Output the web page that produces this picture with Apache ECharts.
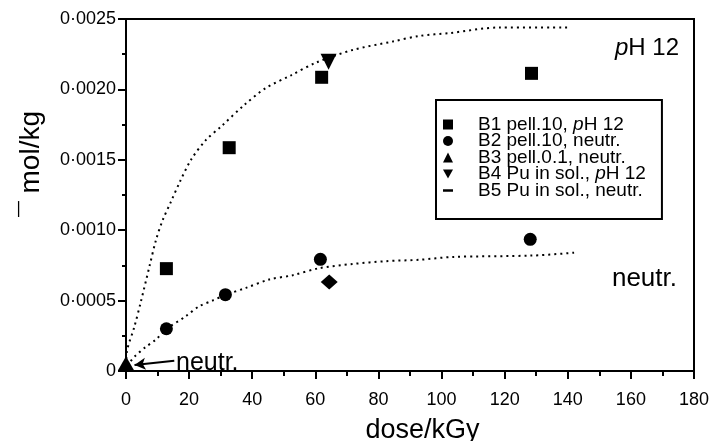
<!DOCTYPE html>
<html>
<head>
<meta charset="utf-8">
<script src="https://cdn.jsdelivr.net/npm/echarts@6/dist/echarts.min.js"></script>
<style>
  html, body { margin: 0; padding: 0; background: #fff; }
  #chart { width: 713px; height: 441px; }
</style>
</head>
<body>
<div id="chart"></div>
<script>
const FONT = '"Liberation Sans", Arial, sans-serif';

// measured points [dose kGy, mol/kg]
const b1Pellet10pH12 = [[12.8, 0.000727], [32.7, 0.001586], [62.0, 0.002086], [128.5, 0.002114]];
const b2Pellet10Neutr = [[12.8, 0.0003], [31.5, 0.000542], [61.6, 0.000793], [128.1, 0.000935]];
const b3Pellet01Neutr = [[0, 0.000055]];
const b4SolpH12 = [[64.2, 0.002197]];
const b5SolNeutr = [[64.4, 0.000632]];

// dotted guide curves
const curvePH12 = [
  [0, 0], [0.3, 0.00014], [2.6, 0.00031], [4.8, 0.0005], [7.4, 0.00074], [9.5, 0.00093],
  [11.6, 0.00107], [14.2, 0.0012], [17, 0.00134], [20.6, 0.0015], [25.3, 0.00164],
  [30.3, 0.00174], [37.5, 0.00189], [44.3, 0.00201], [52.3, 0.0021], [60.2, 0.00219],
  [71.8, 0.00228], [84.5, 0.00234], [93, 0.00238], [102.5, 0.0024], [118.3, 0.00244], [141, 0.00244]
];
const curveNeutr = [
  [1.5, 0.00007], [2.6, 0.0001], [6.2, 0.00017], [9.3, 0.00022], [13, 0.0003], [19, 0.00039],
  [23.2, 0.00046], [27.4, 0.0005], [31.5, 0.00054], [38, 0.00059], [45.4, 0.00065],
  [52.8, 0.00068], [61.2, 0.00073], [71.8, 0.00076], [82.4, 0.00078], [93, 0.00079],
  [103.5, 0.00081], [128.8, 0.00082], [142, 0.00084]
];

const legendNames = [
  'B1 pell.10, pH 12',
  'B2 pell.10, neutr.',
  'B3 pell.0.1, neutr.',
  'B4 Pu in sol., pH 12',
  'B5 Pu in sol., neutr.'
];
const legendIcons = ['rect', 'circle', 'triangle', 'path://M0,0L10,0L5,9Z', 'path://M0,0H10V2.5H0Z'];

const xTicks = { min: 0, max: 180, interval: 20 };
const yTicks = { min: 0, max: 0.0025, interval: 0.0005 };

const chart = echarts.init(document.getElementById('chart'));

const dotted = { color: '#000', width: 2, type: [2, 4] };
const solidBlack = { color: '#000', opacity: 1 };

chart.setOption({
  animation: false,
  backgroundColor: '#fff',
  textStyle: { fontFamily: FONT, color: '#000' },
  grid: {
    left: 126, right: 19, top: 19, bottom: 70,
    outerBoundsMode: 'none', containLabel: false,
    show: true, borderColor: '#000', borderWidth: 2
  },
  xAxis: {
    type: 'value',
    min: xTicks.min, max: xTicks.max, interval: xTicks.interval,
    name: 'dose/kGy',
    nameLocation: 'middle',
    nameGap: 46,
    nameTextStyle: { fontSize: 27, fontFamily: FONT, color: '#000', padding: [0, 0, 0, 25] },
    axisLine: { lineStyle: { color: '#000', width: 2 } },
    axisTick: { length: 8, lineStyle: { color: '#000', width: 2 } },
    minorTick: { show: true, splitNumber: 2, length: 5, lineStyle: { color: '#000', width: 2 } },
    axisLabel: { fontSize: 18, fontFamily: FONT, color: '#000', margin: 20 },
    splitLine: { show: false }
  },
  yAxis: {
    type: 'value',
    min: yTicks.min, max: yTicks.max, interval: yTicks.interval,
    axisLine: { lineStyle: { color: '#000', width: 2 } },
    axisTick: { length: 8, lineStyle: { color: '#000', width: 2 } },
    minorTick: { show: true, splitNumber: 2, length: 4, lineStyle: { color: '#000', width: 2 } },
    axisLabel: {
      fontSize: 18, fontFamily: FONT, color: '#000', margin: 10,
      formatter: v => v === 0 ? '0' : v.toFixed(4).replace('.', '\u00b7')
    },
    splitLine: { show: false }
  },
  legend: {
    left: 436, top: 100,
    orient: 'vertical',
    data: legendNames.map((n, i) => ({ name: n, icon: legendIcons[i] })),
    itemWidth: 10, itemHeight: 10, itemGap: -2.5,
    padding: [15, 16, 19, 7],
    borderColor: '#000', borderWidth: 2,
    backgroundColor: '#fff',
    itemStyle: solidBlack,
    formatter: n => n.replace('pH', '{i|p}H'),
    textStyle: {
      fontSize: 19, fontFamily: FONT, color: '#000', lineHeight: 16,
      padding: [0, 0, 0, 20],
      rich: { i: { fontSize: 19, fontFamily: FONT, fontStyle: 'italic', color: '#000', lineHeight: 16 } }
    }
  },
  series: [
    { type: 'line', data: curvePH12, showSymbol: false, smooth: 0.3, lineStyle: dotted, silent: true, z: 1 },
    { type: 'line', data: curveNeutr, showSymbol: false, smooth: 0.3, lineStyle: dotted, silent: true, z: 1 },
    { name: legendNames[0], type: 'scatter', data: b1Pellet10pH12, symbol: 'rect', symbolSize: 13, itemStyle: solidBlack },
    { name: legendNames[1], type: 'scatter', data: b2Pellet10Neutr, symbol: 'circle', symbolSize: 13, itemStyle: solidBlack },
    {
      name: legendNames[2], type: 'scatter', data: b3Pellet01Neutr, symbol: 'triangle', symbolSize: [16, 14],
      clip: false, z: 5,
      itemStyle: solidBlack,
      markLine: {
        silent: true,
        symbol: ['none', 'arrow'], symbolSize: [9, 11],
        label: { show: false },
        lineStyle: { color: '#000', width: 2, type: 'solid' },
        data: [[{ coord: [15.3, 0.000073] }, { coord: [2.7, 0.000043] }]]
      }
    },
    { name: legendNames[3], type: 'scatter', data: b4SolpH12, symbol: 'path://M0,0L10,0L5,10Z', symbolSize: [16, 16], itemStyle: solidBlack },
    { name: legendNames[4], type: 'scatter', data: b5SolNeutr, symbol: 'diamond', symbolSize: [17, 15], itemStyle: solidBlack }
  ],
  graphic: [
    {
      type: 'text', left: 17, top: 111, rotation: Math.PI / 2,
      style: { text: '\u00af mol/kg', font: '28px ' + FONT, fill: '#000' }
    },
    {
      type: 'text', right: 34, top: 36,
      style: {
        text: '{i|p}H 12', font: '24px ' + FONT, fill: '#000',
        rich: { i: { font: 'italic 24px ' + FONT, fill: '#000' } }
      }
    },
    {
      type: 'text', right: 36, top: 266,
      style: { text: 'neutr.', font: '26px ' + FONT, fill: '#000' }
    },
    {
      type: 'text', left: 176, top: 351,
      style: { text: 'neutr.', font: '25px ' + FONT, fill: '#000' }
    }
  ]
});
</script>
</body>
</html>
